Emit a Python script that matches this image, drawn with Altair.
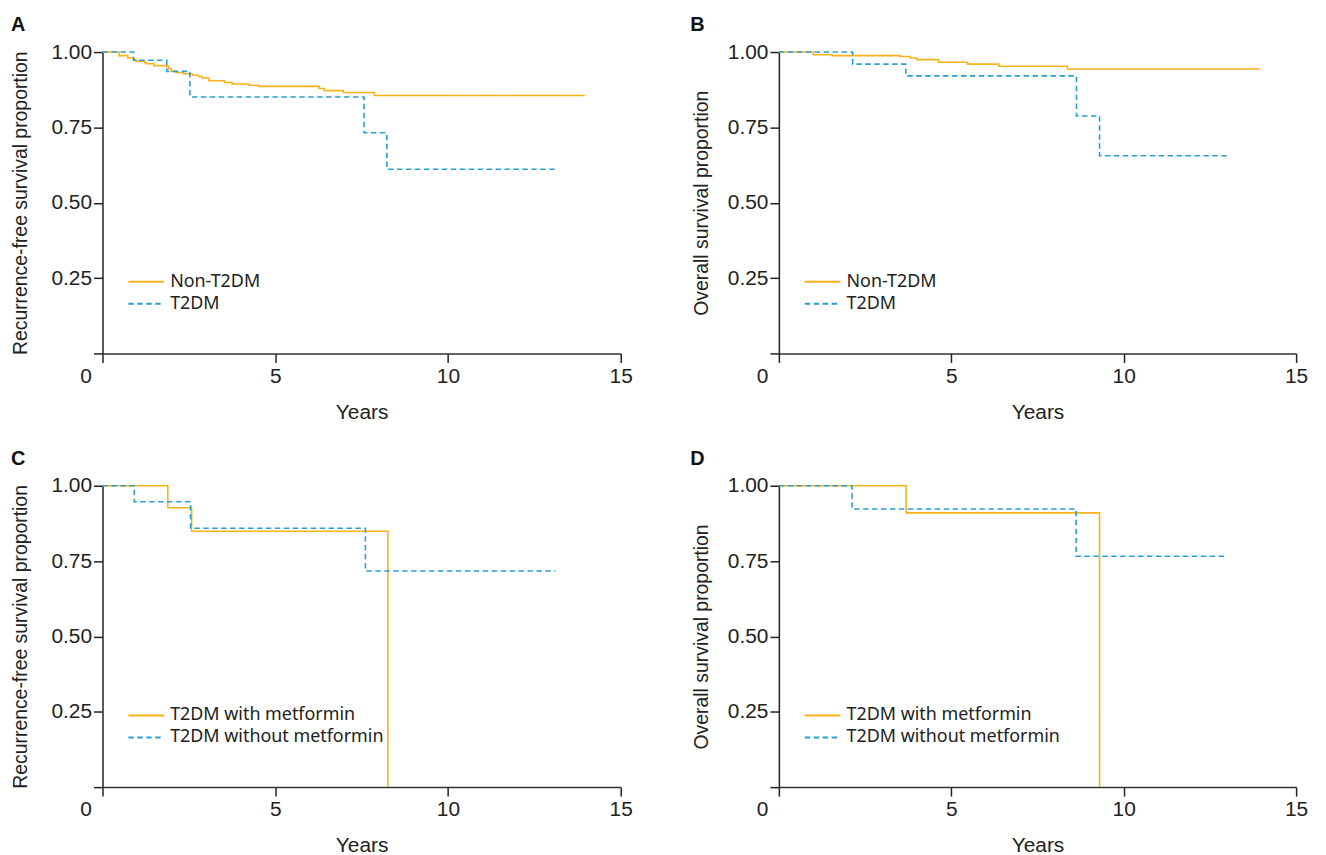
import altair as alt
import pandas as pd

ORANGE = "#F9B21B"
BLUE = "#2A9FD2"
INK = "#222222"

# Panel A: recurrence-free survival, Non-T2DM vs T2DM
a_non_t = [0, 0.48, 0.73, 0.90, 0.97, 1.22, 1.27, 1.49, 1.86, 1.92, 1.99, 2.14, 2.34, 2.60, 2.78, 2.88, 3.08, 3.53, 3.75, 4.24, 4.52, 6.27, 6.42, 6.97, 7.87, 13.97]
a_non_s = [1.0, 0.988, 0.980, 0.975, 0.970, 0.965, 0.961, 0.955, 0.952, 0.945, 0.936, 0.932, 0.928, 0.923, 0.919, 0.914, 0.905, 0.899, 0.894, 0.890, 0.886, 0.879, 0.872, 0.866, 0.856, 0.856]
a_t2_t = [0, 0.90, 1.86, 2.53, 7.57, 8.23, 13.16]
a_t2_s = [1.0, 0.973, 0.936, 0.851, 0.732, 0.611, 0.611]

# Panel B: overall survival, Non-T2DM vs T2DM
b_non_t = [0, 1.00, 1.54, 3.51, 3.81, 4.00, 4.63, 5.47, 6.38, 8.37, 13.96]
b_non_s = [1.0, 0.991, 0.988, 0.985, 0.980, 0.975, 0.966, 0.960, 0.953, 0.944, 0.944]
b_t2_t = [0, 2.14, 3.68, 8.63, 9.30, 13.08]
b_t2_s = [1.0, 0.960, 0.921, 0.788, 0.656, 0.656]

# Panel C: recurrence-free survival, T2DM with / without metformin
c_met_t = [0, 1.89, 2.58, 8.26]
c_met_s = [1.0, 0.927, 0.849, 0.0]
c_nomet_t = [0, 0.92, 2.55, 7.61, 13.11]
c_nomet_s = [1.0, 0.947, 0.859, 0.717, 0.717]

# Panel D: overall survival, T2DM with / without metformin
d_met_t = [0, 3.69, 9.30]
d_met_s = [1.0, 0.910, 0.0]
d_nomet_t = [0, 2.12, 8.62, 12.96]
d_nomet_s = [1.0, 0.923, 0.766, 0.766]

GROUPS_AB = ["Non-T2DM", "T2DM"]
GROUPS_CD = ["T2DM with metformin", "T2DM without metformin"]
X_TICKS = [0, 5, 10, 15]
Y_TICKS = [0, 0.25, 0.5, 0.75, 1.0]


def frame(groups, series):
    rows = []
    for g, (ts, ss) in zip(groups, series):
        for t, s in zip(ts, ss):
            rows.append({"t": t, "s": s, "group": g})
    return pd.DataFrame(rows)


def panel(df, groups, ytitle, letter, letter_dx, w, tpad):
    legend = alt.Legend(
        orient="none", legendX=25, legendY=221, title=None,
        symbolType="stroke", symbolSize=1296, symbolStrokeWidth=2,
        labelFont="Noto Sans", labelFontSize=18, labelColor=INK, labelLimit=0,
        clipHeight=20, rowPadding=2, labelOffset=5, padding=0,
    )
    lines = alt.Chart(df).mark_line(interpolate="step-after", strokeWidth=1.6, clip=False).encode(
        x=alt.X("t:Q", scale=alt.Scale(domain=[0, 15], nice=False, zero=True),
                axis=alt.Axis(values=X_TICKS, format="d", grid=False, tickSize=9, tickWidth=1.5,
                              tickColor=INK, domainColor="#333333", domainWidth=1.5,
                              labelFlush=False, labelPadding=3,
                              labelOffset={"condition": {"test": "datum.value == 0", "value": -17}, "value": 0},
                              labelFont="Liberation Sans", labelFontSize=21, labelColor=INK,
                              title="Years", titleFont="Liberation Sans", titleFontSize=21,
                              titleFontWeight="normal", titleColor=INK, titlePadding=15)),
        y=alt.Y("s:Q", scale=alt.Scale(domain=[0, 1], nice=False),
                axis=alt.Axis(values=Y_TICKS, grid=False, tickSize=9, tickWidth=1.5, tickColor=INK,
                              domainColor=INK, domainWidth=1.5, labelPadding=2,
                              labelExpr="datum.value == 0 ? '' : format(datum.value, '.2f')",
                              labelFont="Liberation Sans", labelFontSize=21, labelColor=INK,
                              title=ytitle, titleFont="Liberation Sans", titleFontSize=19.5,
                              titleFontWeight="normal", titleColor=INK, titlePadding=tpad)),
        color=alt.Color("group:N", scale=alt.Scale(domain=groups, range=[ORANGE, BLUE]), legend=legend),
        strokeDash=alt.StrokeDash("group:N", scale=alt.Scale(domain=groups, range=[[1, 0], [5.5, 3.5]]),
                                  legend=legend),
    )
    lab = alt.Chart(pd.DataFrame({"l": [letter]})).mark_text(
        font="Liberation Sans", fontSize=20, fontWeight="bold", color="#111111",
        align="left", baseline="alphabetic",
    ).encode(text="l:N", x=alt.value(letter_dx), y=alt.value(-21))
    return alt.layer(lines, lab).properties(width=w, height=303)


pA = panel(frame(GROUPS_AB, [(a_non_t, a_non_s), (a_t2_t, a_t2_s)]), GROUPS_AB,
           "Recurrence-free survival proportion", "A", -92, 521, 21)
pB = panel(frame(GROUPS_AB, [(b_non_t, b_non_s), (b_t2_t, b_t2_s)]), GROUPS_AB,
           "Overall survival proportion", "B", -89, 520, 16)
pC = panel(frame(GROUPS_CD, [(c_met_t, c_met_s), (c_nomet_t, c_nomet_s)]), GROUPS_CD,
           "Recurrence-free survival proportion", "C", -92, 521, 21)
pD = panel(frame(GROUPS_CD, [(d_met_t, d_met_s), (d_nomet_t, d_nomet_s)]), GROUPS_CD,
           "Overall survival proportion", "D", -89, 520, 16)

chart = alt.concat(pA, pB, pC, pD, columns=2, spacing={"row": 133, "column": 159},
                   bounds="flush").resolve_scale(
    color="independent", strokeDash="independent").resolve_legend(
    color="independent", strokeDash="independent").properties(
    padding={"left": 2, "top": 5, "right": 10, "bottom": 5}, background="white"
).configure_view(stroke=None)

chart.save("out.html", embed_options={"renderer": "svg", "actions": False})
